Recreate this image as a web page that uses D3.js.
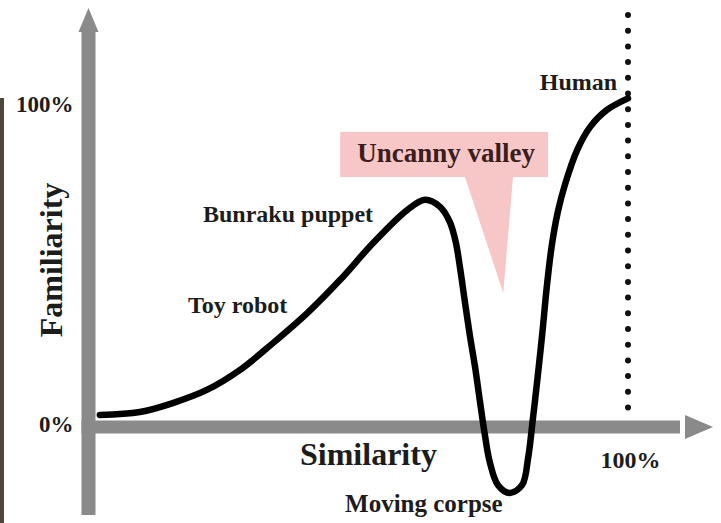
<!DOCTYPE html>
<html>
<head>
<meta charset="utf-8">
<script src="https://cdn.jsdelivr.net/npm/d3@7"></script>
<style>
    body { margin: 0; background: #fff; }
    #viz text { font-family: "Liberation Serif", "Times New Roman", serif; font-weight: bold; fill: #1c1c1c; }
</style>
</head>
<body>
<div id="viz"></div>
<script>
// similarity (%) vs familiarity (%)
const similarity = [2.2, 9.6, 15.7, 22.0, 28.1, 34.3, 40.6, 46.7, 52.8, 59.1, 62.4, 65.2, 67.0, 68.1, 68.9, 69.8, 70.7, 71.7, 72.6, 73.5, 74.4, 75.9, 78.1, 80.4, 81.5, 82.4, 83.1, 84.1, 85.0, 85.9, 87.0, 88.3, 90.6, 93.0, 96.1, 100];
const familiarity = [1.6, 2.5, 5.3, 9.4, 15.6, 24.1, 33.4, 43.8, 55.3, 65.6, 68.8, 66.6, 61.9, 55.6, 47.5, 36.9, 26.6, 16.3, 5.6, -4.7, -13.1, -20.3, -22.8, -20.3, -11.9, 0.6, 10.9, 26.6, 42.2, 54.7, 65.0, 73.4, 84.4, 91.6, 96.9, 100.5];

const yTicks = [0, 100];
const xTicks = [100];
const xTitle = 'Similarity';
const yTitle = 'Familiarity';
const calloutText = 'Uncanny valley';

// label text, anchor point on the chart (similarity, familiarity)
const labelText = ['Toy robot', 'Bunraku puppet', 'Moving corpse', 'Human'];
const labelAt = [[18.5, 33.5], [21.3, 62], [47.6, -28.8], [98, 103.2]];

const width = 721;
const height = 523;

const svg = d3.select('#viz')
              .append('svg')
              .attr('width', width)
              .attr('height', height);

const xScale = d3.scaleLinear().domain([0, 100]).range([88, 628]);
const yScale = d3.scaleLinear().domain([0, 100]).range([420, 100]);

const axisColor = '#8a8a8a';
const axisX = xScale(0) + 0.5;
const axisY = yScale(0) + 7;

// dark strip at left edge of the original picture
svg.append('rect')
   .attr('x', 0).attr('y', yScale(100) - 2)
   .attr('width', 4).attr('height', height)
   .attr('fill', '#4d463a');

// vertical axis with arrow
svg.append('rect')
   .attr('x', axisX - 7).attr('y', 30)
   .attr('width', 14).attr('height', 485)
   .attr('fill', axisColor);
svg.append('path')
   .attr('d', `M${axisX - 10},32L${axisX},8L${axisX + 10},32Z`)
   .attr('fill', axisColor);

// horizontal axis with arrow
svg.append('rect')
   .attr('x', axisX - 7).attr('y', axisY - 6.5)
   .attr('width', 687 - axisX).attr('height', 13)
   .attr('fill', axisColor);
svg.append('path')
   .attr('d', `M685,${axisY - 12}L713,${axisY}L685,${axisY + 12}Z`)
   .attr('fill', axisColor);

// dotted line at 100% similarity
svg.append('line')
   .attr('x1', xScale(100)).attr('x2', xScale(100))
   .attr('y1', 15).attr('y2', 408)
   .attr('stroke', '#111')
   .attr('stroke-width', 6)
   .attr('stroke-linecap', 'round')
   .attr('stroke-dasharray', '0 15.7');

// tick labels
const yAxis = d3.axisLeft(yScale).tickValues(yTicks).tickSize(0).tickPadding(8).tickFormat(d => d + '%');
svg.append('g')
   .attr('transform', 'translate(' + (axisX - 7) + ', 4)')
   .call(yAxis)
   .call(g => g.select('.domain').remove())
   .selectAll('text')
   .attr('font-size', 23)
   .attr('font-family', null);

const xAxis = d3.axisBottom(xScale).tickValues(xTicks).tickSize(0).tickPadding(24).tickFormat(d => d + '%');
svg.append('g')
   .attr('transform', 'translate(2, ' + axisY + ')')
   .call(xAxis)
   .call(g => g.select('.domain').remove())
   .selectAll('text')
   .attr('font-size', 24)
   .attr('font-family', null);

// axis titles
svg.append('text')
   .attr('x', 300).attr('y', 465)
   .attr('font-size', 32)
   .text(xTitle);
svg.append('text')
   .attr('transform', 'translate(62, 260) rotate(-90)')
   .attr('text-anchor', 'middle')
   .attr('font-size', 32)
   .text(yTitle);

// uncanny valley callout, pointing at the dip
const boxL = xScale(46.7), boxR = xScale(85.2), boxT = yScale(90), boxB = yScale(75.9);
svg.append('path')
   .attr('d', `M${boxL},${boxT}H${boxR}V${boxB}H${xScale(78.7)}L${xScale(76.9)},${yScale(39.7)}L${xScale(69.8)},${boxB}H${boxL}Z`)
   .attr('fill', '#f7c6c6');
svg.append('text')
   .attr('x', (boxL + boxR) / 2 + 2).attr('y', boxB - 15)
   .attr('text-anchor', 'middle')
   .attr('font-size', 27)
   .style('fill', '#3b1d1d')
   .text(calloutText);

// the curve
const line = d3.line()
               .x(d => xScale(d[0]))
               .y(d => yScale(d[1]))
               .curve(d3.curveCatmullRom.alpha(0.5));

svg.append('path')
   .datum(similarity.map((s, i) => [s, familiarity[i]]))
   .attr('d', line)
   .attr('fill', 'none')
   .attr('stroke', '#000')
   .attr('stroke-width', 6.5)
   .attr('stroke-linecap', 'round');

// point labels
svg.selectAll('.label')
   .data(labelText)
   .enter()
   .append('text')
   .attr('class', 'label')
   .attr('x', (d, i) => xScale(labelAt[i][0]))
   .attr('y', (d, i) => yScale(labelAt[i][1]))
   .attr('text-anchor', (d, i) => i === 3 ? 'end' : 'start')
   .attr('font-size', (d, i) => i === 2 ? 25 : 24)
   .text(d => d);
</script>
</body>
</html>
